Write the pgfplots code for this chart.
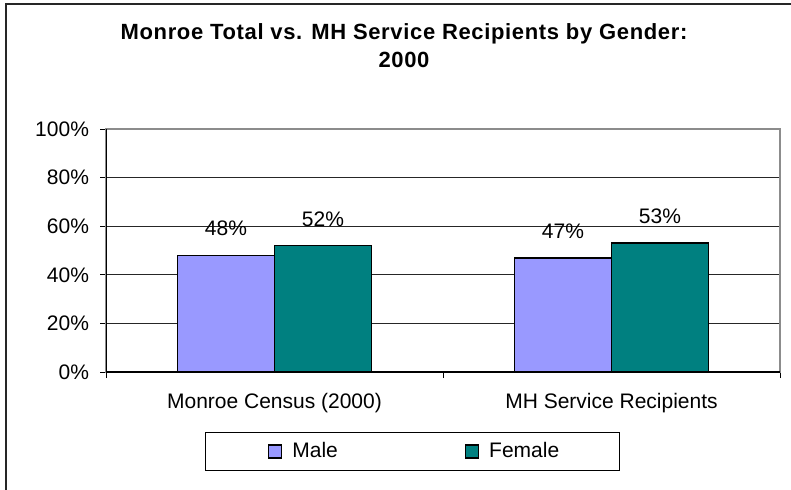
\documentclass[border=0pt]{standalone}
\usepackage{pgfplots}
\pgfplotsset{compat=1.18}
\usepackage{fontspec}
\setmainfont{Liberation Sans}

\definecolor{male}{HTML}{9999FF}
\definecolor{female}{HTML}{008080}

\begin{document}
\begin{tikzpicture}
    \useasboundingbox (0,0) rectangle (395.5pt,244.5pt);
    \fill[white] (0,0) rectangle (395.5pt,244.5pt);
    % chart frame (cut off on the right and at the bottom)
    \draw[line width=1.2pt, black!85] (3pt,-10pt) -- (3pt,242.5pt) -- (420pt,242.5pt);
    \node[font=\fontsize{11}{14}\selectfont\bfseries\addfontfeatures{LetterSpace=3}, align=center]
        at (202pt,221.5pt) {Monroe Total vs. MH Service Recipients by Gender:\\2000};

    \begin{axis}[
            at={(53pt,58.5pt)}, anchor=south west,
            scale only axis, width=337pt, height=121.5pt,
            /pgf/number format/assume math mode=true,
            ybar=0pt, bar width=48.5pt,
            xmin=-0.5, xmax=1.5, ymin=0, ymax=100,
            % tick marks between the categories, names in the middle
            xtick={-0.5,0.5,1.5}, xticklabels={},
            extra x ticks={0,1},
            extra x tick labels={Monroe Census (2000), MH Service Recipients},
            extra x tick style={major tick length=0pt},
            ytick={0,20,...,100},
            yticklabel={\pgfmathprintnumber{\tick}\%},
            tick label style={font=\fontsize{10.5}{12}\selectfont},
            x tick label style={yshift=-7pt},
            y tick label style={xshift=-2pt},
            xtick pos=bottom, ytick pos=left,
            tick align=outside, major tick length=3pt,
            tick style={black, line width=0.5pt},
            ymajorgrids, grid style={black!85, line width=0.5pt},
            axis line style={black!45, line width=0.6pt},
            nodes near coords={\pgfmathprintnumber{\pgfplotspointmeta}\%},
            every node near coord/.append style={font=\fontsize{10.5}{12}\selectfont, black, yshift=6pt},
            sq legend/.style={legend image code/.code={
                \path (##1pt,0pt);
                \draw[fill=#1, draw=black, line width=0.6pt] (0pt,-3.25pt) rectangle (6.5pt,3.25pt);
                \path (9.5pt,0pt);}},
            legend columns=2,
            legend style={
                at={(axis description cs:0.4548,-0.327)}, anchor=center,
                draw=black, line width=0.5pt,
                font=\fontsize{10.5}{12}\selectfont,
                inner xsep=28pt, inner ysep=3pt,
                /tikz/every even column/.append style={column sep=61.5pt}
            },
        ]
        \addplot[fill=male, draw=black, line width=0.75pt,
                 legend image code/.code={
                    \path (-3pt,0pt);
                    \draw[fill=male, draw=black, line width=0.6pt] (0pt,-3.25pt) rectangle (6.5pt,3.25pt);
                    \path (9.5pt,0pt);}]
            coordinates {(0,48) (1,47)};
        \addlegendentry{Male}
        \addplot[fill=female, draw=black, line width=0.75pt,
                 legend image code/.code={
                    \draw[fill=female, draw=black, line width=0.6pt] (0pt,-3.25pt) rectangle (6.5pt,3.25pt);
                    \path (9.5pt,0pt);}]
            coordinates {(0,52) (1,53)};
        \addlegendentry{Female}

        \draw[black, line width=0.6pt] (rel axis cs:0,1) -- (rel axis cs:0,0) -- (rel axis cs:1,0);
    \end{axis}
\end{tikzpicture}
\end{document}
